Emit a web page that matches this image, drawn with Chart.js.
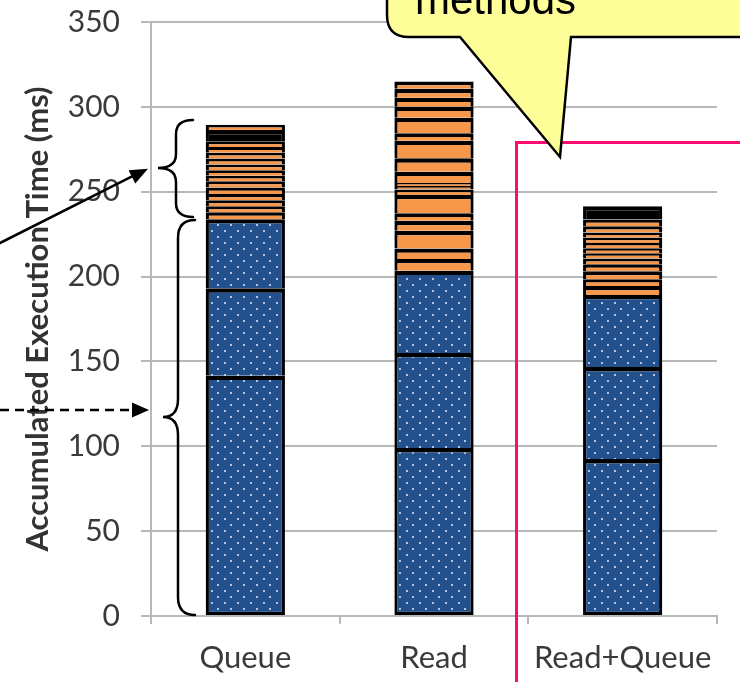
<!DOCTYPE html>
<html>
<head>
<meta charset="utf-8">
<script src="https://cdn.jsdelivr.net/npm/chart.js@4.4.1/dist/chart.umd.min.js"></script>
<style>
  html, body { margin: 0; padding: 0; background: #ffffff; }
  canvas { display: block; }
</style>
</head>
<body>
<canvas id="chart" width="740" height="682"></canvas>
<script>
// ---- data -------------------------------------------------------------
const categories = ['Queue', 'Read', 'Read+Queue'];
const yTicks = [0, 50, 100, 150, 200, 250, 300, 350];

// kernel stages (blue, dotted), one value per bar, bottom to top
const kernelStage1 = [141.6, 99.0, 92.5];
const kernelStage2 = [51.5, 56.0, 54.2];
const kernelStage3 = [40.7, 48.5, 42.5];

// transfer slices (orange) for each bar, bottom to top
const queueTransfers = [4.1, 3.5, 3.6, 3.6, 3.9, 3.7, 3.2, 3.3, 3.4, 3.5, 3.4, 3.3, 3.2];
const readTransfers = [6.9, 6.2, 10.4, 5.9, 4.4, 10.8, 3.2, 2.1, 1.8, 6.6, 7.9, 10.4, 4.3, 9.2, 6.5, 5.3, 5.2, 4.3];
const readQueueTransfers = [5.3, 3.9, 4.7, 4.1, 3.4, 3.2, 2.9, 3.1, 3.2, 2.9, 3.7, 4.1];

// synchronisation time (black) per bar
const syncTime = [6.8, 0, 7.8];

// transfers issued after the synchronisation
const queueTrailing = [3.1];
const readTrailing = [];
const readQueueTrailing = [];

// ---- build stacked segments --------------------------------------------
const transfersByBar = [queueTransfers, readTransfers, readQueueTransfers];
const trailingByBar = [queueTrailing, readTrailing, readQueueTrailing];

const segments = categories.map((_, i) => {
  const list = [
    { v: kernelStage1[i], kind: 'kernel' },
    { v: kernelStage2[i], kind: 'kernel' },
    { v: kernelStage3[i], kind: 'kernel' }
  ];
  transfersByBar[i].forEach(v => list.push({ v, kind: 'transfer' }));
  if (syncTime[i] > 0) list.push({ v: syncTime[i], kind: 'sync' });
  trailingByBar[i].forEach(v => list.push({ v, kind: 'transfer' }));
  return list;
});

const canvas = document.getElementById('chart');
const mainCtx = canvas.getContext('2d');

// dark blue fill with a staggered grid of light dots
function dottedBlue() {
  const tile = document.createElement('canvas');
  tile.width = 13;
  tile.height = 12;
  const g = tile.getContext('2d');
  g.fillStyle = '#21508c';
  g.fillRect(0, 0, 13, 12);
  g.fillStyle = '#b4c4dd';
  g.fillRect(3, 2, 2, 2);
  g.fillRect(9, 8, 2, 2);
  return mainCtx.createPattern(tile, 'repeat');
}

const fills = {
  kernel: dottedBlue(),
  transfer: '#f7974a',
  sync: '#000000'
};

const maxLen = Math.max(...segments.map(s => s.length));
const datasets = [];
for (let k = 0; k < maxLen; k++) {
  datasets.push({
    data: segments.map(s => (s[k] ? s[k].v : null)),
    backgroundColor: segments.map(s => (s[k] ? fills[s[k].kind] : 'rgba(0,0,0,0)')),
    borderColor: '#000000',
    borderWidth: { top: 4.4, left: 3.2, right: 3.2, bottom: 3.2 },
    borderSkipped: k === 0 ? false : 'start',
    barPercentage: 0.42,
    categoryPercentage: 1,
    stack: 'total'
  });
}

// ---- annotation overlay -----------------------------------------------
function drawBrace(ctx, xEnd, xBody, xTip, yTop, yMid, yBot, r) {
  ctx.beginPath();
  ctx.moveTo(xEnd, yTop);
  ctx.quadraticCurveTo(xBody, yTop, xBody, yTop + r);
  ctx.lineTo(xBody, yMid - r);
  ctx.quadraticCurveTo(xBody, yMid, xTip, yMid);
  ctx.quadraticCurveTo(xBody, yMid, xBody, yMid + r);
  ctx.lineTo(xBody, yBot - r);
  ctx.quadraticCurveTo(xBody, yBot, xEnd, yBot);
  ctx.stroke();
}

function arrowHead(ctx, x0, y0, x1, y1, len, half) {
  const a = Math.atan2(y1 - y0, x1 - x0);
  ctx.beginPath();
  ctx.moveTo(x1, y1);
  ctx.lineTo(x1 - len * Math.cos(a) + half * Math.sin(a), y1 - len * Math.sin(a) - half * Math.cos(a));
  ctx.lineTo(x1 - len * Math.cos(a) - half * Math.sin(a), y1 - len * Math.sin(a) + half * Math.cos(a));
  ctx.closePath();
  ctx.fill();
}

const overlay = {
  id: 'overlay',
  afterDraw(chart) {
    const ctx = chart.ctx;
    const y = chart.scales.y;
    ctx.save();

    // frame around the combined variant
    ctx.strokeStyle = '#ff0a6e';
    ctx.lineWidth = 3;
    ctx.strokeRect(516.5, 142.5, 400, 600);

    // braces beside the first bar
    ctx.strokeStyle = '#000000';
    ctx.fillStyle = '#000000';
    ctx.lineWidth = 2.5;
    ctx.lineCap = 'round';
    drawBrace(ctx, 193, 176, 158, y.getPixelForValue(292.3), y.getPixelForValue(264), y.getPixelForValue(235.1), 14);
    drawBrace(ctx, 195, 178, 163, y.getPixelForValue(233.4), y.getPixelForValue(117.3), y.getPixelForValue(0.6), 18);

    // solid arrow towards the upper brace
    const ay = y.getPixelForValue(263.5);
    ctx.beginPath();
    ctx.moveTo(-2, 244);
    ctx.lineTo(140, ay + 3.5);
    ctx.stroke();
    arrowHead(ctx, -2, 244, 148, ay, 18, 7.5);

    // dashed arrow towards the lower brace
    const dy = y.getPixelForValue(121.4);
    ctx.setLineDash([9, 6]);
    ctx.lineCap = 'butt';
    ctx.beginPath();
    ctx.moveTo(0, dy);
    ctx.lineTo(136, dy);
    ctx.stroke();
    ctx.setLineDash([]);
    arrowHead(ctx, 0, dy, 149, dy, 17, 7.5);

    // speech callout
    ctx.beginPath();
    ctx.moveTo(760, 37);
    ctx.lineTo(571, 37);
    ctx.lineTo(560, 157);
    ctx.lineTo(460, 37);
    ctx.lineTo(409, 37);
    ctx.quadraticCurveTo(387, 37, 387, 15);
    ctx.lineTo(387, -30);
    ctx.lineTo(760, -30);
    ctx.closePath();
    ctx.fillStyle = '#ffff99';
    ctx.fill();
    ctx.lineJoin = 'miter';
    ctx.lineWidth = 2.5;
    ctx.strokeStyle = '#000000';
    ctx.stroke();

    ctx.fillStyle = '#000000';
    ctx.font = '42px "Liberation Sans", Arial, sans-serif';
    ctx.textBaseline = 'alphabetic';
    ctx.textAlign = 'left';
    ctx.fillText('methods', 415, 14);

    ctx.restore();
  }
};

// ---- chart -------------------------------------------------------------
const gridGrey = '#b8b8b8';
const textGrey = '#3a3a3a';

new Chart(canvas, {
  type: 'bar',
  data: { labels: categories, datasets },
  plugins: [overlay],
  options: {
    responsive: false,
    animation: false,
    devicePixelRatio: 1,
    layout: { padding: { top: 22, right: 23, left: 0, bottom: 0 } },
    plugins: { legend: { display: false }, tooltip: { enabled: false } },
    scales: {
      x: {
        stacked: true,
        grid: { offset: true, drawOnChartArea: false, drawTicks: true, tickLength: 8, color: gridGrey, lineWidth: 2 },
        border: { display: true, color: gridGrey, width: 2 },
        ticks: { font: { family: 'Lato', size: 31 }, color: textGrey, padding: 15 },
        afterFit(scale) {
          scale.height = 66;
          scale.paddingLeft = 0;
          scale.paddingRight = 0;
        }
      },
      y: {
        stacked: true,
        min: 0,
        max: 350,
        afterBuildTicks(scale) { scale.ticks = yTicks.map(v => ({ value: v })); },
        grid: { color: gridGrey, lineWidth: 2, tickLength: 10 },
        border: { display: true, color: gridGrey, width: 2 },
        ticks: { font: { family: 'Lato', size: 30 }, color: textGrey, padding: 21 },
        title: {
          display: true,
          text: 'Accumulated Execution Time (ms)',
          font: { family: 'Lato', size: 31, weight: 'bold' },
          color: '#333333',
          padding: { top: 19, bottom: 0 }
        },
        afterFit(scale) {
          scale.width = 151;
          scale.paddingTop = 0;
          scale.paddingBottom = 0;
        }
      }
    }
  }
});
</script>
</body>
</html>
